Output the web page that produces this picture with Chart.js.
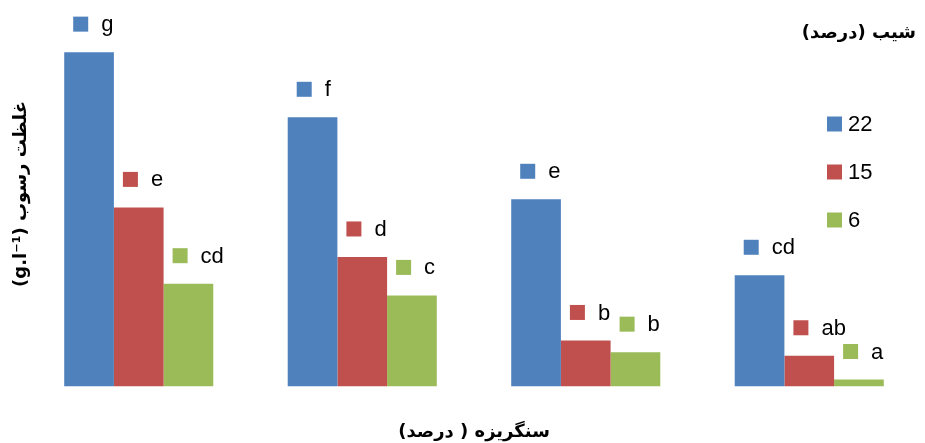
<!DOCTYPE html>
<html>
<head>
<meta charset="utf-8">
<script src="https://cdn.jsdelivr.net/npm/chart.js@4/dist/chart.umd.min.js"></script>
<style>
  html, body { margin: 0; padding: 0; background: #fff; }
  #wrap { width: 925px; height: 443px; }
</style>
</head>
<body>
<div id="wrap"><canvas id="chart"></canvas></div>
<script>
// gravel percent groups (no labels shown on the axis)
var categories = ['', '', '', '']
var seriesNames = ['22', '15', '6']
var colors = ['#4F81BD', '#C0504D', '#9BBB59']

// sediment concentration
var slope22 = [11.13, 8.96, 6.23, 3.70]
var slope15 = [5.96, 4.31, 1.53, 1.02]
var slope6 = [3.42, 3.03, 1.14, 0.23]

// Duncan letters above each bar
var letters22 = ['g', 'f', 'e', 'cd']
var letters15 = ['e', 'd', 'b', 'ab']
var letters6 = ['cd', 'c', 'b', 'a']

var legendTitle = 'شیب (درصد)'
var yTitle = 'غلظت رسوب (g.l⁻¹)'
var xTitle = 'سنگریزه ( درصد)'

var allLetters = [letters22, letters15, letters6]

// letters with a small coloured square, like the excel labels
var letterLabels = {
  id: 'letterLabels',
  afterDatasetsDraw: function (chart) {
    var ctx = chart.ctx
    ctx.save()
    ctx.font = '22px "Liberation Sans", Arial, sans-serif'
    ctx.textBaseline = 'middle'
    ctx.textAlign = 'left'
    chart.data.datasets.forEach(function (ds, i) {
      var meta = chart.getDatasetMeta(i)
      meta.data.forEach(function (bar, j) {
        var left = bar.x - bar.width / 2 + 9
        var cy = bar.y - 28
        ctx.fillStyle = colors[i]
        ctx.fillRect(left, cy - 7.5, 15, 15)
        ctx.fillStyle = '#000'
        ctx.fillText(allLetters[i][j], left + 28, cy + 1)
      })
    })
    ctx.restore()
  }
}

// legend floats inside the plot area on the right, plus the y title
var sideTexts = {
  id: 'sideTexts',
  afterDraw: function (chart) {
    var ctx = chart.ctx
    ctx.save()
    ctx.fillStyle = '#000'
    ctx.textBaseline = 'middle'

    ctx.direction = 'rtl'
    ctx.font = 'bold 18px "DejaVu Sans", sans-serif'
    ctx.textAlign = 'right'
    ctx.fillText(legendTitle, 916, 33)

    ctx.direction = 'ltr'
    ctx.font = '22px "Liberation Sans", Arial, sans-serif'
    ctx.textAlign = 'left'
    seriesNames.forEach(function (name, i) {
      var cy = 124 + i * 48
      ctx.fillStyle = colors[i]
      ctx.fillRect(827, cy - 7.5, 15, 15)
      ctx.fillStyle = '#000'
      ctx.fillText(name, 848, cy + 1)
    })

    ctx.translate(21, 194)
    ctx.rotate(-Math.PI / 2)
    ctx.direction = 'rtl'
    ctx.textAlign = 'center'
    ctx.font = 'bold 18px "DejaVu Sans", sans-serif'
    ctx.fillText(yTitle, 0, 0)
    ctx.restore()
  }
}

var datasets = [slope22, slope15, slope6].map(function (vals, i) {
  return {
    label: seriesNames[i],
    data: vals,
    backgroundColor: colors[i],
    borderWidth: 0
  }
})

new Chart(document.getElementById('chart'), {
  type: 'bar',
  data: { labels: categories, datasets: datasets },
  options: {
    responsive: true,
    maintainAspectRatio: false,
    animation: false,
    layout: { padding: { left: 27, right: 4, top: 26, bottom: 0 } },
    datasets: { bar: { barPercentage: 1, categoryPercentage: 0.667 } },
    plugins: {
      legend: { display: false },
      tooltip: { enabled: false }
    },
    scales: {
      x: {
        grid: { display: false },
        border: { display: false },
        ticks: { display: false },
        title: {
          display: true,
          text: xTitle,
          color: '#000',
          font: { family: '"DejaVu Sans", sans-serif', size: 18, weight: 'bold' },
          padding: { top: 27, bottom: 0 }
        }
      },
      y: {
        display: false,
        min: 0,
        max: 12
      }
    }
  },
  plugins: [letterLabels, sideTexts]
})
</script>
</body>
</html>
